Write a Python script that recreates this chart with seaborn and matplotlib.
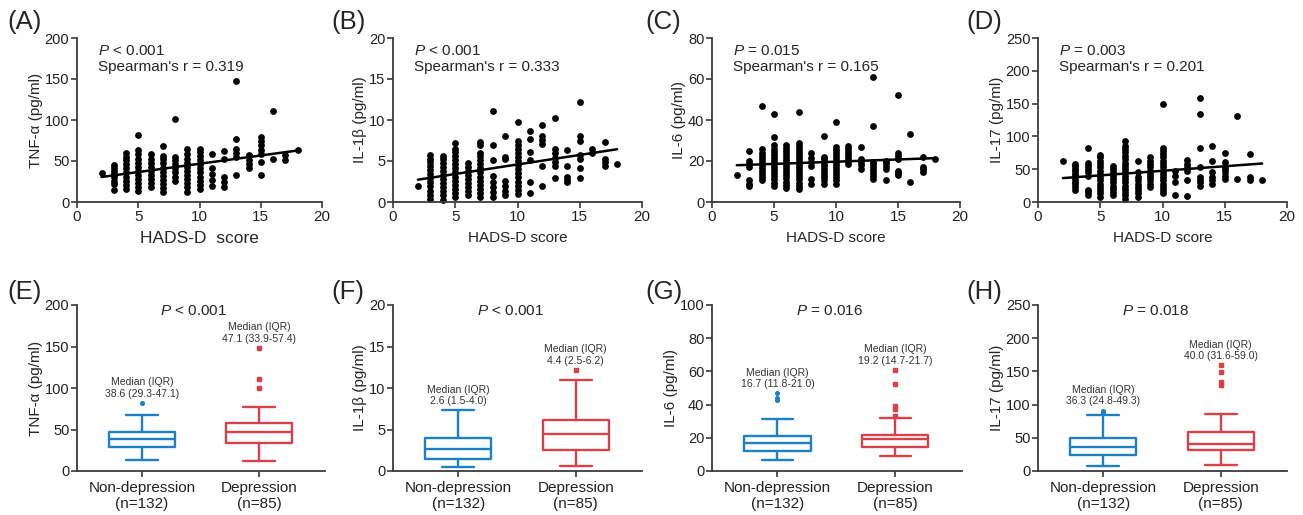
import numpy as np
import pandas as pd
import matplotlib
matplotlib.use("Agg")
import matplotlib.pyplot as plt
import seaborn as sns

# ======================= Data =======================
# Scatter panels: HADS-D score -> cytokine values
tnf_by_score = {
    2: [35],
    3: [15, 22, 26, 30, 34, 38, 42, 45],
    4: [16, 21, 26, 31, 36, 41, 46, 51, 55, 60],
    5: [13, 18, 23, 28, 33, 38, 43, 48, 53, 58, 63, 82],
    6: [18, 23, 28, 33, 38, 43, 48, 53, 58],
    7: [12, 17, 22, 27, 32, 37, 42, 47, 52, 56, 68],
    8: [26, 31, 36, 41, 46, 51, 55, 101],
    9: [12, 18, 23, 28, 33, 38, 43, 48, 53, 58, 65],
    10: [16, 21, 26, 31, 36, 41, 46, 51, 56, 61, 65],
    11: [20, 27, 34, 41, 59],
    12: [18, 24, 30, 53, 62],
    13: [33, 55, 60, 65, 77, 148],
    14: [41, 46, 51, 57],
    15: [33, 49, 59, 64, 69, 74, 79],
    16: [53, 111],
    17: [51, 57],
    18: [63],
}
il1b_by_score = {
    2: [2.0],
    3: [0.4, 0.9, 1.4, 1.9, 2.4, 2.9, 3.4, 3.9, 4.4, 4.9, 5.3, 5.7],
    4: [0.3, 0.8, 1.3, 1.8, 2.3, 2.8, 3.3, 3.8, 4.3, 4.8, 5.2, 5.6],
    5: [0.6, 1.1, 1.6, 2.1, 2.6, 3.1, 3.6, 4.1, 4.6, 5.1, 5.6, 6.1, 6.5, 7.2],
    6: [0.8, 1.3, 1.8, 2.3, 2.8, 3.3, 3.8, 4.3, 4.8],
    7: [0.6, 1.1, 1.6, 2.1, 2.6, 3.1, 3.6, 4.1, 4.6, 5.1, 5.6, 6.0, 7.0, 7.3],
    8: [0.6, 1.2, 1.8, 2.4, 3.2, 5.1, 6.9, 11.1],
    9: [0.8, 1.4, 2.0, 2.6, 5.3, 5.5, 8.1],
    10: [1.0, 1.5, 2.0, 2.5, 3.0, 3.5, 4.0, 4.5, 5.0, 5.5, 6.0, 6.5, 7.0, 7.5, 9.7],
    11: [1.1, 2.5, 5.1, 6.1, 7.7, 8.6],
    12: [2.0, 4.4, 7.1, 7.6, 8.1, 9.4],
    13: [2.9, 4.4, 4.9, 5.4, 6.0, 6.5, 10.3],
    14: [2.4, 2.7, 3.0, 4.4, 6.3],
    15: [2.9, 4.2, 5.3, 5.7, 7.5, 8.1, 12.2],
    16: [6.0, 6.5],
    17: [4.4, 4.9, 5.3, 7.3],
    18: [4.6],
}
il6_by_score = {
    2: [13.4],
    3: [8, 9, 10.5, 17, 18.5, 20, 25],
    4: [10.5, 12, 13.5, 15, 16.5, 18, 19.5, 21, 22.5, 24, 25.8, 46.8],
    5: [8, 9.5, 11, 12.5, 14, 15.5, 17, 18.5, 20, 21.5, 23, 24.5, 26, 28, 31.5, 42.8],
    6: [6.8, 8.5, 10, 11.5, 13, 14.5, 16, 17.5, 19, 20.5, 22, 23.5, 25, 26.5, 28],
    7: [6.5, 8, 9.5, 11, 12.5, 14, 15.5, 17, 18.5, 20, 21.5, 23, 24.5, 26, 27.5, 29, 44],
    8: [9, 11, 17.8, 19.5, 21.5, 23.7],
    9: [9, 10.5, 12, 13.5, 15, 16.5, 18, 19.5, 21, 21.8, 32.3],
    10: [9, 10.5, 12, 13.5, 15, 16.5, 18, 19.5, 21, 22.5, 24, 25.5, 26.6, 38.8],
    11: [18.6, 20, 21.5, 23, 24.5, 26, 27.5],
    12: [16, 18, 19.5, 21, 27],
    13: [11, 12.5, 14, 15.5, 17, 18.5, 19.4, 37.2, 61],
    14: [10.5, 16, 17.5, 19, 20],
    15: [13, 14, 15.3, 21, 22.5, 24, 52.2],
    16: [10, 33],
    17: [14.5, 16, 17, 21.8],
    18: [21],
}
il17_by_score = {
    2: [62],
    3: [19, 23, 27, 31, 35, 39, 43, 47, 51, 55, 58],
    4: [11, 15, 18, 40, 45, 50, 55, 60, 83],
    5: [8, 13, 18, 23, 28, 33, 38, 43, 48, 53, 58, 63, 68, 71],
    6: [10, 15, 20, 25, 30, 35, 40, 45, 50, 55],
    7: [5, 10, 15, 20, 25, 30, 35, 40, 45, 50, 55, 60, 65, 70, 76, 81, 86, 93],
    8: [8, 13, 18, 23, 28, 33, 38, 45, 63],
    9: [23, 28, 33, 38, 43, 48, 53, 58, 63, 68],
    10: [13, 18, 23, 28, 33, 38, 43, 48, 53, 58, 63, 68, 73, 78, 83, 149],
    11: [10, 30, 40, 48],
    12: [9, 33, 48, 53, 58, 64],
    13: [25, 30, 34, 38, 53, 82, 134, 159],
    14: [28, 33, 38, 45, 62, 86],
    15: [35, 40, 45, 50, 55, 61, 74],
    16: [35, 131],
    17: [33, 38, 73],
    18: [34],
}

scatter_p = ["$P$ < 0.001", "$P$ < 0.001", "$P$ = 0.015", "$P$ = 0.003"]
spearman_r = [0.319, 0.333, 0.165, 0.201]

# Box panels: [whisker low, Q1, median, Q3, whisker high] per group
groups = ["Non-depression\n(n=132)", "Depression\n(n=85)"]
box_tnf = [[13.0, 29.3, 38.6, 47.1, 68.0], [12.0, 33.9, 47.1, 57.4, 77.0]]
box_il1b = [[0.45, 1.5, 2.6, 4.0, 7.3], [0.65, 2.5, 4.4, 6.2, 11.0]]
box_il6 = [[6.9, 11.8, 16.7, 21.0, 31.1], [8.9, 14.7, 19.2, 21.7, 32.1]]
box_il17 = [[8.1, 24.8, 36.3, 49.3, 84.3], [8.6, 31.6, 40.0, 59.0, 85.4]]
out_tnf = [[82.0], [100.0, 111.0, 148.0]]
out_il1b = [[], [12.2]]
out_il6 = [[42.8, 43.8, 46.7], [33.3, 37.5, 38.9, 52.3, 61.0]]
out_il17 = [[86.9, 90.9], [129.8, 133.8, 149.0, 159.0]]
box_p = ["$P$ < 0.001", "$P$ < 0.001", "$P$ = 0.016", "$P$ = 0.018"]

ylabels = ["TNF-\u03b1 (pg/ml)", "IL-1\u03b2 (pg/ml)", "IL-6 (pg/ml)", "IL-17 (pg/ml)"]

# ======================= Style =======================
sns.set_style("ticks")
plt.rcParams['font.family'] = ['Liberation Sans', 'DejaVu Sans']
plt.rcParams['mathtext.fontset'] = 'custom'
plt.rcParams['mathtext.rm'] = 'Liberation Sans'
plt.rcParams['mathtext.it'] = 'Liberation Sans:italic'
AX_COLOR = '#3a3a3a'
BLUE = '#1b80c6'
RED = '#d9414a'

W, H = 1303, 515
fig = plt.figure(figsize=(W / 100, H / 100), dpi=100)


def px_axes(left, top, width, height):
    return fig.add_axes([left / W, 1 - (top + height) / H, width / W, height / H])


def style_axes(ax):
    sns.despine(ax=ax)
    for s in ['left', 'bottom']:
        ax.spines[s].set_color(AX_COLOR)
        ax.spines[s].set_linewidth(1.3)
    ax.tick_params(direction='out', length=4, width=1.2, color=AX_COLOR,
                   labelsize=10.5, labelcolor='#222222', pad=1.5)


# ======================= Scatter panels (A-D) =======================
scatter_data = [tnf_by_score, il1b_by_score, il6_by_score, il17_by_score]
scatter_ymax = [200, 20, 80, 250]
scatter_step = [50, 5, 20, 50]
lefts = [77, 393, 712, 1038]
widths = [245, 249, 248, 249]

for i, cols in enumerate(scatter_data):
    rows = [(k, v) for k, vals in cols.items() for v in vals]
    df = pd.DataFrame(rows, columns=['score', 'value'])
    ax = px_axes(lefts[i], 38, widths[i], 164)
    sns.regplot(data=df, x='score', y='value', ax=ax, ci=None, truncate=True,
                scatter_kws=dict(s=24, color='black', alpha=1, linewidths=0,
                                 clip_on=False),
                line_kws=dict(color='black', lw=1.8))
    ax.set_xlim(0, 20)
    ax.set_ylim(0, scatter_ymax[i])
    ax.set_xticks(range(0, 21, 5))
    ax.set_yticks(np.arange(0, scatter_ymax[i] + 1, scatter_step[i]))
    style_axes(ax)
    ax.tick_params(axis='x', labelsize=11)
    xl = "HADS-D  score" if i == 0 else "HADS-D score"
    ax.set_xlabel(xl, fontsize=12.5 if i == 0 else 11, labelpad=5)
    ax.set_ylabel(ylabels[i], fontsize=11, labelpad=1.5)
    ax.text(0.085, 0.965, f"{scatter_p[i]}\nSpearman's r = {spearman_r[i]:.3f}",
            transform=ax.transAxes, ha='left', va='top', fontsize=11,
            linespacing=1.25)

# ======================= Box panels (E-H) =======================
box_data = [box_tnf, box_il1b, box_il6, box_il17]
box_out = [out_tnf, out_il1b, out_il6, out_il17]
box_ymax = [200, 20, 100, 250]
box_step = [50, 5, 20, 50]
box_widths = [248, 249, 250, 249]
colors = [BLUE, RED]
flier_marker = ['o', 's']

for i, five in enumerate(box_data):
    ax = px_axes(lefts[i], 305, box_widths[i], 166)
    stats = []
    for (lo, q1, med, q3, hi), fl, lab in zip(five, box_out[i], groups):
        stats.append(dict(whislo=lo, q1=q1, med=med, q3=q3, whishi=hi,
                          fliers=fl, label=lab))
    art = ax.bxp(stats, positions=[0, 1], widths=0.56, capwidths=0.27,
                 showfliers=True)
    for j, c in enumerate(colors):
        art['boxes'][j].set(color=c, linewidth=1.7)
        art['medians'][j].set(color=c, linewidth=1.7)
        for ln in art['whiskers'][2 * j:2 * j + 2] + art['caps'][2 * j:2 * j + 2]:
            ln.set(color=c, linewidth=1.7)
        art['fliers'][j].set(marker=flier_marker[j], markerfacecolor=c,
                             markeredgecolor=c, markersize=2.6)
        lo, q1, med, q3, hi = five[j]
        top = max([hi] + box_out[i][j])
        ax.annotate(f"Median (IQR)\n{med:.1f} ({q1:.1f}-{q3:.1f})", xy=(j, top),
                    xytext=(0, 3), textcoords='offset points', ha='center',
                    va='bottom', fontsize=7.5, color='#333333', linespacing=1.2)
    ax.set_xlim(-0.555, 1.564)
    ax.set_ylim(0, box_ymax[i])
    ax.set_yticks(np.arange(0, box_ymax[i] + 1, box_step[i]))
    style_axes(ax)
    ax.tick_params(axis='x', labelsize=11, pad=3)
    ax.set_ylabel(ylabels[i], fontsize=11, labelpad=1.5)
    ax.text(0.47, 0.965, box_p[i], transform=ax.transAxes, ha='center',
            va='center', fontsize=11)

# ======================= Panel letters =======================
letters_top = ["(A)", "(B)", "(C)", "(D)"]
letters_bot = ["(E)", "(F)", "(G)", "(H)"]
letter_x = [7, 331, 645, 966]
for lx, lt, lb in zip(letter_x, letters_top, letters_bot):
    fig.text(lx / W, 1 - 22 / H, lt, fontsize=18.5, ha='left', va='center')
    fig.text(lx / W, 1 - 292 / H, lb, fontsize=18.5, ha='left', va='center')

fig.savefig("out.png", dpi=100)
